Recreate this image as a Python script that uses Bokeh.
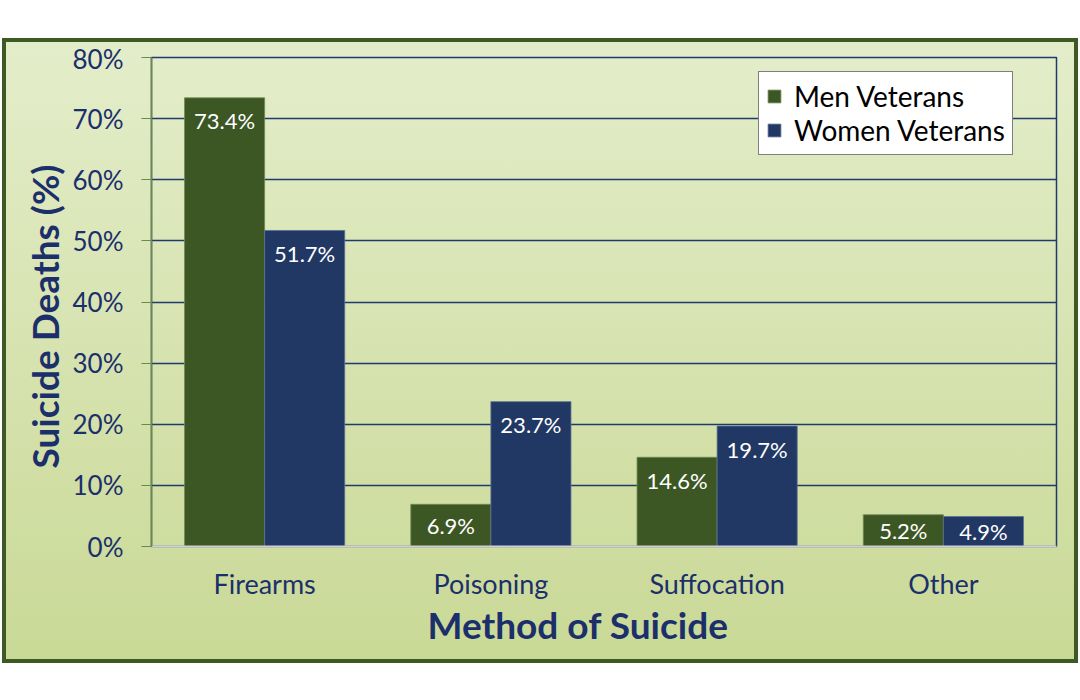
from bokeh.plotting import figure
from bokeh.models import (ColumnDataSource, FactorRange, LabelSet, Title, PrintfTickFormatter,
                          Legend, LegendItem, FixedTicker)
from bokeh.core.properties import value
from bokeh.transform import dodge
from bokeh.embed import file_html
from bokeh.resources import INLINE

categories = ["Firearms", "Poisoning", "Suffocation", "Other"]
men = [73.4, 6.9, 14.6, 5.2]
women = [51.7, 23.7, 19.7, 4.9]
series_names = ["Men Veterans", "Women Veterans"]
y_ticks = [0, 10, 20, 30, 40, 50, 60, 70, 80]
x_title = "Method of Suicide"
y_title = "Suicide Deaths (%)"

FONT = "Lato"
NAVY = "#1b2f6b"
MEN_C = "#3c5724"
WOMEN_C = "#213864"

FRAME_H = 489
Y_MAX = 80
PX_PER_UNIT = FRAME_H / Y_MAX
LABEL_DROP = 23 / PX_PER_UNIT  # label centre sits 23px below the bar top ("inside end")


def label_y(v):
    # inside end, or centred in the bar when the bar is too short
    return max(v - LABEL_DROP, v / 2)


src = ColumnDataSource(dict(
    cat=categories, men=men, women=women,
    men_lbl=[f"{v:.1f}%" for v in men],
    women_lbl=[f"{v:.1f}%" for v in women],
    men_ly=[label_y(v) for v in men],
    women_ly=[label_y(v) for v in women],
))

p = figure(x_range=FactorRange(*categories), y_range=(0, Y_MAX),
           frame_width=905, frame_height=FRAME_H,
           min_border_left=145, min_border_right=18, min_border_top=15, min_border_bottom=113,
           output_backend="svg", toolbar_location=None)
p.border_fill_color = None
p.background_fill_color = None
p.styles = {"background": "linear-gradient(to bottom, #e4edca, #c9d996)",
            "border": "4px solid #3d5a24", "margin-left": "2px", "margin-top": "38px"}
p.outline_line_color = "#1f3a6e"
p.outline_line_width = 1.5
p.x_range.range_padding = 0
p.x_range.group_padding = 0

bw = 0.354
r1 = p.vbar(x=dodge("cat", -bw / 2, range=p.x_range), top="men", width=bw, source=src,
            fill_color=MEN_C, line_color="#6f8a55", line_width=0.8)
r2 = p.vbar(x=dodge("cat", bw / 2, range=p.x_range), top="women", width=bw, source=src,
            fill_color=WOMEN_C, line_color="#5a6f96", line_width=0.8)

for ycol, lbl, off in (("men_ly", "men_lbl", -bw / 2), ("women_ly", "women_lbl", bw / 2)):
    ls = LabelSet(x=dodge("cat", off, range=p.x_range), y=ycol, text=lbl, source=src,
                  text_align="center", text_baseline="middle",
                  text_color="white", text_font=value(FONT), text_font_size="22px")
    p.add_layout(ls)

p.yaxis.ticker = FixedTicker(ticks=y_ticks)
p.yaxis.formatter = PrintfTickFormatter(format="%d%%")
p.yaxis.major_label_text_font = FONT
p.yaxis.major_label_text_font_size = "26px"
p.yaxis.major_label_text_color = NAVY
p.yaxis.major_tick_out = 10
p.yaxis.major_tick_in = 0
p.yaxis.minor_tick_line_color = None
p.yaxis.major_tick_line_color = "#6b8a4a"
p.yaxis.axis_line_color = "#6b8a4a"
p.yaxis.axis_line_width = 1.5
p.yaxis.major_label_standoff = 18

p.xaxis.major_label_text_font = FONT
p.xaxis.major_label_text_font_size = "27px"
p.xaxis.major_label_text_color = NAVY
p.xaxis.major_tick_line_color = None
p.xaxis.minor_tick_line_color = None
p.xaxis.axis_line_color = "#cfcfcf"
p.xaxis.axis_line_width = 2
p.xaxis.major_label_standoff = 14

# axis titles as side titles (offset lets them sit off-centre as in the original)
xt = Title(text=x_title, align="left", offset=276, text_font=FONT, text_font_style="bold",
           text_font_size="37px", text_color=NAVY, standoff=-6)
p.add_layout(xt, "below")
yt = Title(text=y_title, align="left", offset=78, text_font=FONT, text_font_style="bold",
           text_font_size="37px", text_color=NAVY, standoff=6)
p.add_layout(yt, "left")

p.xgrid.grid_line_color = None
p.ygrid.grid_line_color = "#1f3a6e"
p.ygrid.grid_line_width = 1.5

legend = Legend(items=[LegendItem(label=series_names[0], renderers=[r1]),
                       LegendItem(label=series_names[1], renderers=[r2])],
                location=(607, 391))
legend.label_text_font = FONT
legend.label_text_font_size = "28px"
legend.label_text_color = "black"
legend.glyph_width = 16
legend.glyph_height = 16
legend.border_line_color = "black"
legend.border_line_width = 1.2
legend.background_fill_color = "white"
legend.background_fill_alpha = 1
legend.margin = 0
legend.padding = 7
legend.spacing = 0
legend.label_standoff = 12
p.add_layout(legend)

open("out.html", "w").write(file_html(p, INLINE))
